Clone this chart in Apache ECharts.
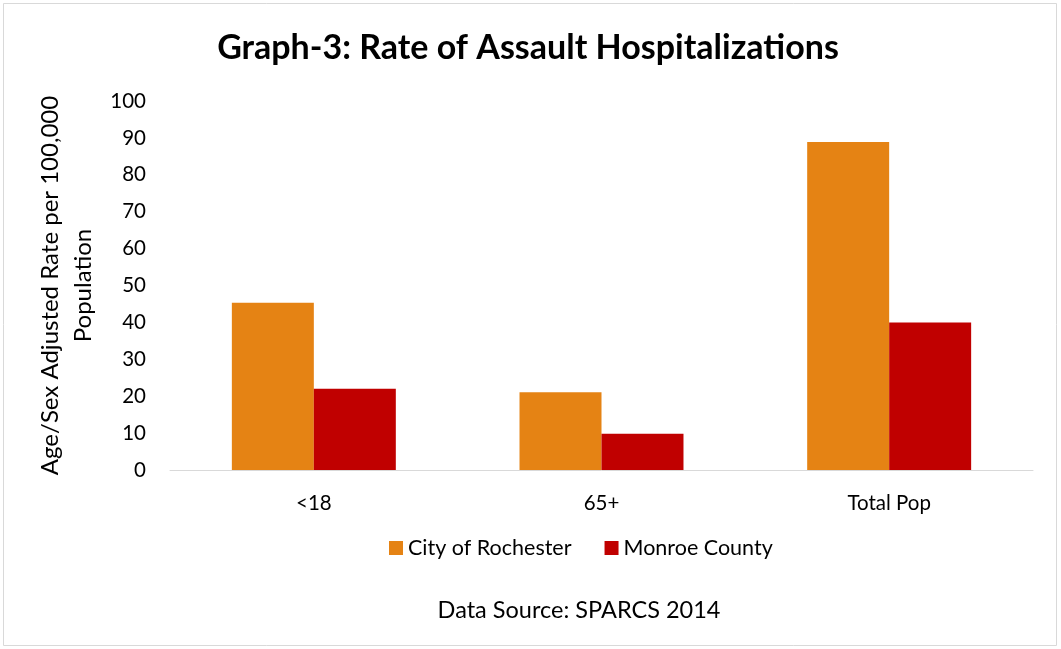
<!DOCTYPE html>
<html><head><meta charset="utf-8">
<script src="https://cdn.jsdelivr.net/npm/echarts@6/dist/echarts.min.js"></script>
<style>html,body{margin:0;padding:0;background:#fff}#c{width:1061px;height:649px}</style>
</head><body><div id="c"></div>
<script>
const categories = ['<18', '65+', 'Total Pop'];
const rochester = [45.3, 21.1, 88.9];
const monroe = [22.0, 9.8, 40.0];
const seriesNames = ['City of Rochester', 'Monroe County'];
const yTicks = {min: 0, max: 100, interval: 10};

const FONT = 'Lato, "Open Sans", sans-serif';
const chart = echarts.init(document.getElementById('c'));
chart.setOption({
  animation: false,
  backgroundColor: '#fff',
  textStyle: {fontFamily: FONT},
  title: [{
    text: 'Graph-3: Rate of Assault Hospitalizations',
    left: 523, top: 26, textAlign: 'center',
    textStyle: {fontFamily: FONT, fontSize: 34, fontWeight: 'bold', color: '#000'}
  }, {
    text: 'Data Source: SPARCS 2014',
    left: 574, top: 593, textAlign: 'center',
    textStyle: {fontFamily: FONT, fontSize: 23.5, fontWeight: 'normal', color: '#000'}
  }],
  graphic: [{
    type: 'rect', shape: {x: 3.5, y: 3.5, width: 1053, height: 642},
    style: {fill: 'none', stroke: '#d9d9d9', lineWidth: 1}, silent: true, z: -1
  }],
  legend: {
    data: seriesNames,
    left: 384, top: 532,
    itemWidth: 14, itemHeight: 14, itemGap: 33,
    icon: 'rect',
    textStyle: {fontFamily: FONT, fontSize: 21.5, color: '#000'}
  },
  grid: {left: 170, right: 28, top: 101, bottom: 179},
  xAxis: {
    type: 'category', data: categories,
    axisLine: {lineStyle: {color: '#d9d9d9', width: 1}},
    axisTick: {show: false},
    axisLabel: {fontFamily: FONT, fontSize: 20.5, color: '#000', margin: 23}
  },
  yAxis: {
    type: 'value', min: yTicks.min, max: yTicks.max, interval: yTicks.interval,
    name: 'Age/Sex Adjusted Rate per 100,000\nPopulation',
    nameLocation: 'middle', nameGap: 63, nameRotate: 90,
    nameTextStyle: {fontFamily: FONT, fontSize: 24, color: '#000', lineHeight: 33},
    axisLine: {show: false}, axisTick: {show: false},
    splitLine: {show: false},
    axisLabel: {fontFamily: FONT, fontSize: 20.5, color: '#000', margin: 24}
  },
  series: [{
    name: seriesNames[0], type: 'bar', data: rochester,
    barGap: '0%', barCategoryGap: '43%',
    itemStyle: {color: '#e58314'}
  }, {
    name: seriesNames[1], type: 'bar', data: monroe,
    itemStyle: {color: '#c00000'}
  }]
});
</script></body></html>
